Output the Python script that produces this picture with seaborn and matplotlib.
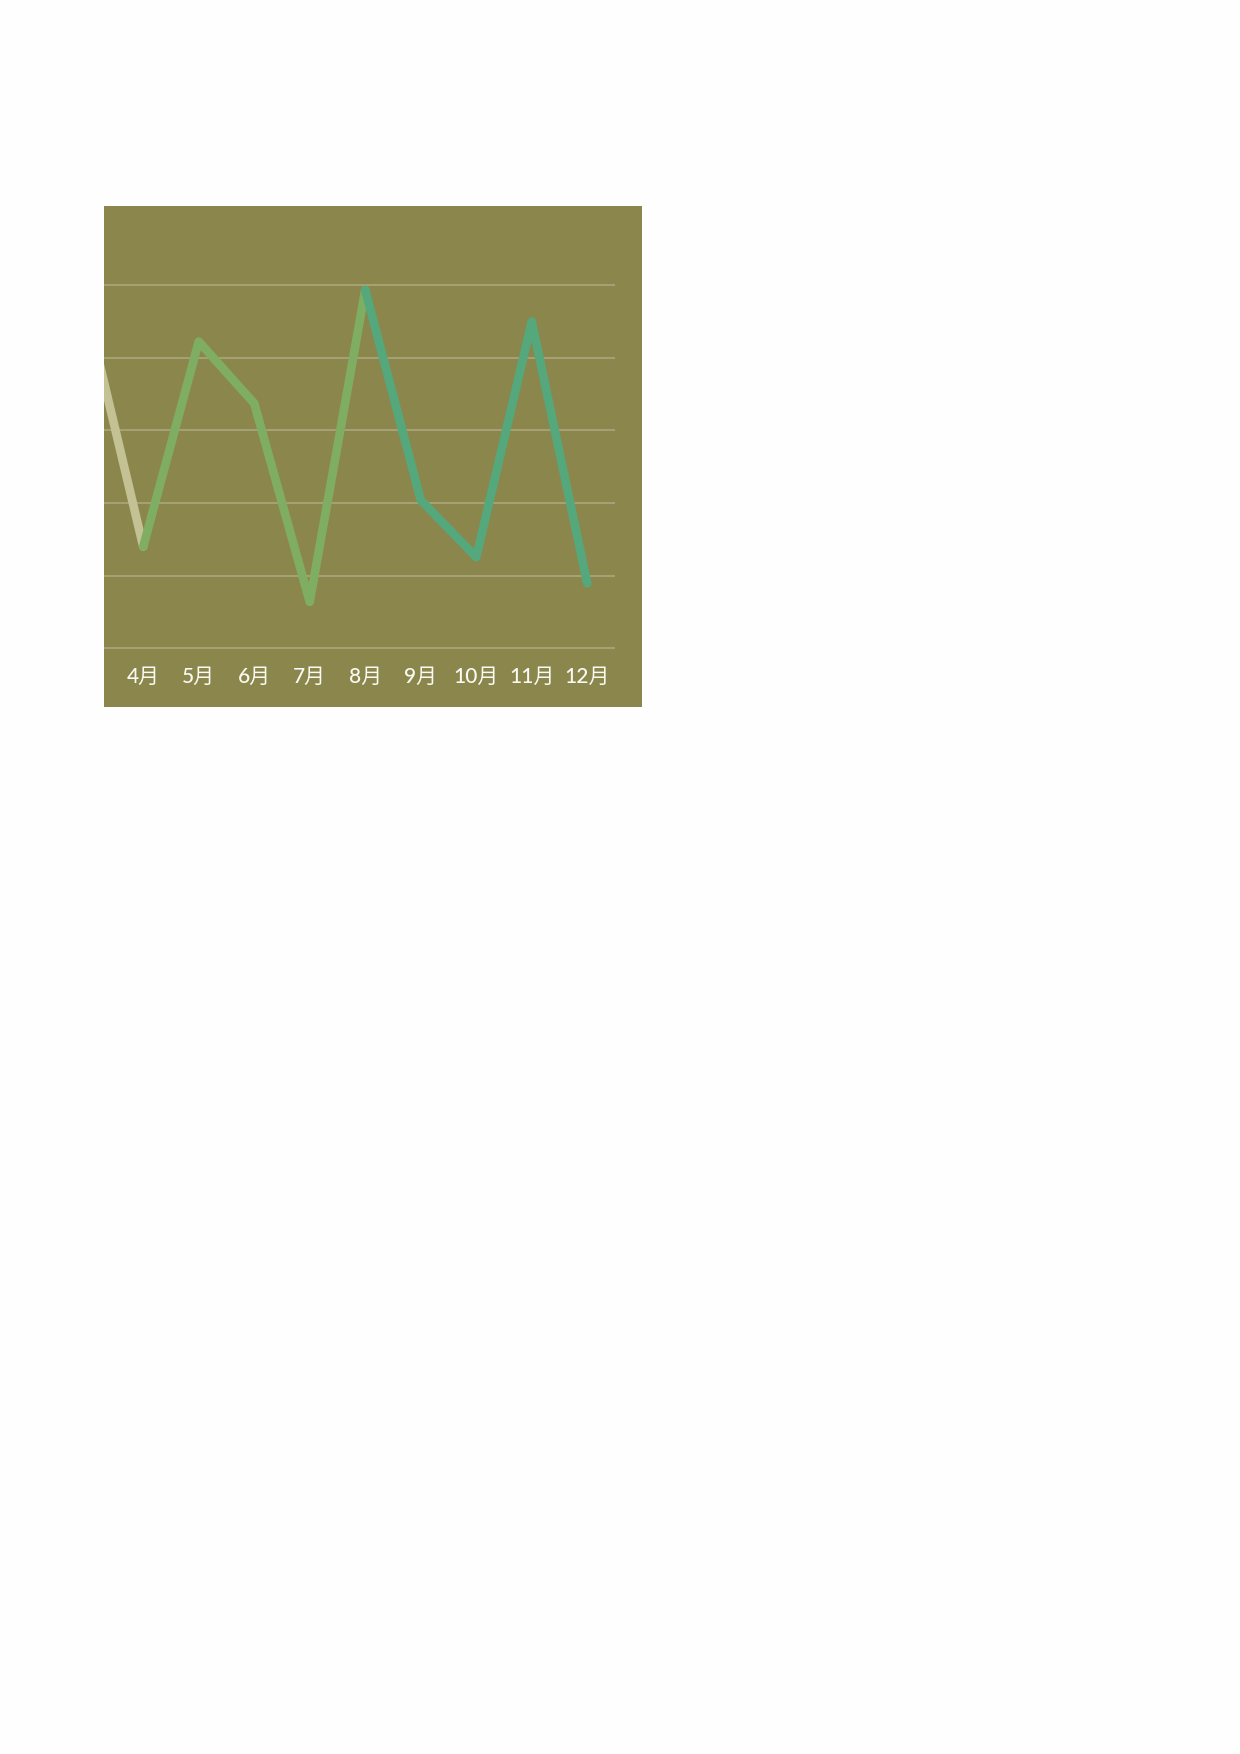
import pandas as pd
import matplotlib
matplotlib.use('Agg')
import matplotlib.pyplot as plt
import seaborn as sns

# data (gridlines = 0, 20, ... 100)
months = [3, 4, 5, 6, 7, 8, 9, 10, 11, 12]
values = [92, 28, 84.4, 67.4, 12.8, 98.6, 40.8, 25.1, 89.9, 17.9]
series_names = ['一季度', '二季度', '三季度']
series_months = [[3, 4], [4, 5, 6, 7, 8], [8, 9, 10, 11, 12]]
tick_months = [4, 5, 6, 7, 8, 9, 10, 11, 12]
tick_labels = [f'{m}月' for m in tick_months]

colors = ['#c4c194', '#7fae63', '#55a77c']
panel_color = '#8b874c'
grid_color = '#a8a47a'

lookup = dict(zip(months, values))
rows = []
for name, ms in zip(series_names, series_months):
    for m in ms:
        rows.append({'series': name, 'month': m, 'value': lookup[m]})
df = pd.DataFrame(rows)

W, H = 1240, 1754
fig = plt.figure(figsize=(W / 100, H / 100), dpi=100)
fig.patch.set_facecolor('#fefefe')

# panel background
px0, px1, py0, py1 = 104, 642, 206, 707
bg = fig.add_axes([px0 / W, 1 - py1 / H, (px1 - px0) / W, (py1 - py0) / H], zorder=0)
bg.set_facecolor(panel_color)
bg.set_xticks([])
bg.set_yticks([])
for s in bg.spines.values():
    s.set_visible(False)

# plot area in pixels
ax_l, ax_r, ax_t, ax_b = 104, 615, 206, 650.6
ax = fig.add_axes([ax_l / W, 1 - ax_b / H, (ax_r - ax_l) / W, (ax_b - ax_t) / H], zorder=1)
ax.set_facecolor('none')

sns.lineplot(data=df, x='month', y='value', hue='series', hue_order=series_names,
             palette=colors, linewidth=6.2, sort=False, estimator=None,
             solid_capstyle='round', solid_joinstyle='round', legend=False, ax=ax)

ax.set_xlim(3.293, 12.5)
ax.set_ylim(-0.6, 121.7)
ax.set_yticks([0, 20, 40, 60, 80, 100])
ax.set_yticklabels([])
ax.yaxis.grid(True, color=grid_color, linewidth=1.3)
ax.set_axisbelow(True)
ax.tick_params(axis='y', length=0)

ax.set_xticks(tick_months)
ax.set_xticklabels(tick_labels)
ax.tick_params(axis='x', length=0, pad=12, colors='#fafaf5', labelsize=15)
for lab in ax.get_xticklabels():
    lab.set_family(['Lato', 'Noto Sans CJK SC'])
    lab.set_fontweight('medium')
ax.set_xlabel('')
ax.set_ylabel('')
for s in ax.spines.values():
    s.set_visible(False)

fig.savefig('out.png', dpi=100, facecolor=fig.get_facecolor())
